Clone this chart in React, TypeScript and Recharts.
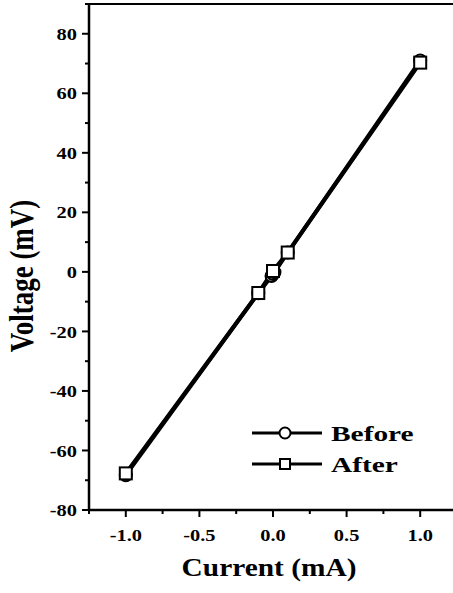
import React from 'react';
import { ComposedChart, Line, XAxis, YAxis } from 'recharts';

// measured values (current in mA, voltage in mV)
const beforeCurrent = [-1.0, -0.1, -0.01, 0.0, 0.01, 0.1, 1.0];
const beforeVoltage = [-68.3, -7.2, -1.4, -0.7, -0.1, 6.5, 71.0];
const afterCurrent = [-1.0, -0.1, 0.0, 0.1, 1.0];
const afterVoltage = [-67.7, -7.1, 0.3, 6.5, 70.3];

const xTicks = [-1.25, -1.0, -0.75, -0.5, -0.25, 0.0, 0.25, 0.5, 0.75, 1.0, 1.25];
const yTicks = [-80, -70, -60, -50, -40, -30, -20, -10, 0, 10, 20, 30, 40, 50, 60, 70, 80, 90];
const Y_TOP = 90;
const seriesNames = ['Before', 'After'];

const before = beforeCurrent.map((x, i) => ({ x, y: beforeVoltage[i] }));
const after = afterCurrent.map((x, i) => ({ x, y: afterVoltage[i] }));

const txt: React.CSSProperties = { fontFamily: 'Liberation Serif', fontWeight: 700 };

const CircleDot = (p: any) => (
  <circle cx={p.cx} cy={p.cy} r={6} fill="#fff" stroke="#000" strokeWidth={2} />
);
const SquareDot = (p: any) => (
  <rect x={p.cx - 6} y={p.cy - 6} width={12} height={12} fill="#fff" stroke="#000" strokeWidth={2} />
);

const YTick = ({ x, y, payload }: any) => {
  // top edge of the frame
  if (payload.value === Y_TOP) {
    return <line x1={x - 4} x2={x + 400} y1={y} y2={y} stroke="#000" strokeWidth={2} />;
  }
  const major = payload.value % 20 === 0;
  return (
    <g>
      <line x1={x - (major ? 7 : 4)} x2={x} y1={y} y2={y} stroke="#000" strokeWidth={2} />
      {major && (
        <text transform={`translate(${x - 12},${y}) scale(1.2,1)`} dy="0.36em" textAnchor="end"
          style={txt} fontSize={17} fill="#000">{payload.value}</text>
      )}
    </g>
  );
};

const XTick = ({ x, y, payload }: any) => {
  const v = payload.value;
  const major = Math.abs(v * 2 - Math.round(v * 2)) < 1e-6;
  return (
    <g>
      <line x1={x} x2={x} y1={y} y2={y + (major ? 7 : 4)} stroke="#000" strokeWidth={2} />
      {major && (
        <text transform={`translate(${x},${y + 31}) scale(1.2,1)`} textAnchor="middle"
          style={txt} fontSize={17} fill="#000">{v.toFixed(1)}</text>
      )}
    </g>
  );
};

const XTitle = () => (
  <text transform="translate(269,576) scale(1.13,1)" textAnchor="middle"
    style={txt} fontSize={26} fill="#000">Current (mA)</text>
);
const YTitle = () => (
  <text transform="translate(21,276) scale(1.28,1) rotate(-90)" dy="0.34em" textAnchor="middle"
    style={txt} fontSize={27} fill="#000">Voltage (mV)</text>
);

const LegendBox = () => (
  <svg width={180} height={70} style={{ position: 'absolute', left: 250, top: 415 }}>
    {seriesNames.map((name, i) => {
      const cy = 18 + i * 31;
      return (
        <g key={name}>
          <line x1={2} x2={72} y1={cy} y2={cy} stroke="#000" strokeWidth={3} />
          {i === 0 ? (
            <circle cx={35} cy={cy} r={5.5} fill="#fff" stroke="#000" strokeWidth={2} />
          ) : (
            <rect x={30} y={cy - 5} width={10} height={10} fill="#fff" stroke="#000" strokeWidth={2} />
          )}
          <text transform={`translate(81,${cy + 8}) scale(1.4,1)`} style={txt}
            fontSize={21} fill="#000">{name}</text>
        </g>
      );
    })}
  </svg>
);

export default function App() {
  return (
    <div style={{ position: 'absolute', left: 0, top: 0, width: 453, height: 593, overflow: 'hidden', background: '#fff' }}>
      <ComposedChart width={470} height={593} margin={{ top: 4, right: 13, bottom: 0, left: 0 }}>
        <XAxis dataKey="x" type="number" domain={[-1.25, 1.25]} ticks={xTicks} height={83}
          axisLine={{ stroke: '#000', strokeWidth: 2.5 }} tickLine={false} tickSize={0} tickMargin={0}
          tick={<XTick />} interval={0} allowDataOverflow label={{ content: () => <XTitle /> }} />
        <YAxis type="number" domain={[-80, Y_TOP]} ticks={yTicks} width={89}
          axisLine={{ stroke: '#000', strokeWidth: 2.5 }} tickLine={false} tickSize={0} tickMargin={0}
          tick={<YTick />} interval={0} allowDataOverflow label={{ content: () => <YTitle /> }} />
        <Line data={before} dataKey="y" name={seriesNames[0]} type="linear" stroke="#000" strokeWidth={4}
          dot={<CircleDot />} activeDot={false} isAnimationActive={false} />
        <Line data={after} dataKey="y" name={seriesNames[1]} type="linear" stroke="#000" strokeWidth={4}
          dot={<SquareDot />} activeDot={false} isAnimationActive={false} />
      </ComposedChart>
      <LegendBox />
    </div>
  );
}
